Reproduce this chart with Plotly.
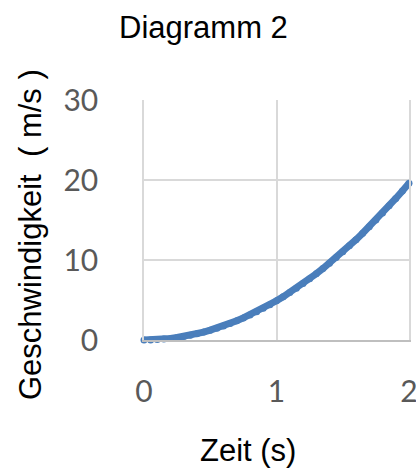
import plotly.graph_objects as go

zeit = [0, 0.05, 0.1, 0.15, 0.2, 0.25, 0.3, 0.35, 0.4, 0.45, 0.5, 0.55, 0.6, 0.65, 0.7,
        0.75, 0.8, 0.85, 0.9, 0.95, 1.0, 1.05, 1.1, 1.15, 1.2, 1.25, 1.3, 1.35, 1.4,
        1.45, 1.5, 1.55, 1.6, 1.65, 1.7, 1.75, 1.8, 1.85, 1.9, 1.95, 2.0]
geschwindigkeit = [0, 0.01, 0.05, 0.11, 0.2, 0.31, 0.44, 0.6, 0.78, 0.99, 1.23, 1.48,
                   1.76, 2.07, 2.4, 2.76, 3.14, 3.54, 3.97, 4.42, 4.9, 5.4, 5.93, 6.48,
                   7.06, 7.66, 8.28, 8.93, 9.6, 10.3, 11.03, 11.78, 12.54, 13.34, 14.16,
                   15.0, 15.88, 16.77, 17.69, 18.63, 19.6]
x_ticks = [0, 1, 2]
y_ticks = [0, 10, 20, 30]

W, H = 416, 468
L, R, T, B = 144, 7, 100, 128
pw, ph = W - L - R, H - T - B

def px(xp):
    return (xp - L) / pw

def py(yp):
    return (H - B - yp) / ph

blue = "#4a7ebb"
fig = go.Figure()
fig.add_trace(go.Scatter(
    x=zeit, y=geschwindigkeit, mode="lines+markers",
    line=dict(color=blue, width=7),
    marker=dict(color=blue, size=7, line=dict(width=0)),
    cliponaxis=False, showlegend=False,
))

grid = "#d9d9d9"
fig.update_layout(
    width=W, height=H,
    margin=dict(l=L, r=R, t=T, b=B, autoexpand=False),
    paper_bgcolor="white", plot_bgcolor="white",
    xaxis=dict(range=[0, 2], tickvals=x_ticks, showgrid=True, gridcolor=grid, gridwidth=1.5,
               zeroline=False, showline=True, linecolor="#bfbfbf", linewidth=1.5,
               ticks="", ticklabelstandoff=24, ticklabeloverflow="allow",
               tickfont=dict(family="Lato", size=30, color="#595959")),
    yaxis=dict(range=[0, 30], tickvals=y_ticks, showgrid=True, gridcolor=grid, gridwidth=1.5,
               zeroline=False, showline=True, linecolor=grid, linewidth=1.5, mirror=True,
               ticks="", ticklabelstandoff=38, ticklabeloverflow="allow",
               tickfont=dict(family="Lato", size=30, color="#595959")),
    font=dict(family="Liberation Sans", color="black"),
    annotations=[
        dict(text="Diagramm 2", xref="paper", yref="paper", x=px(203), y=py(27),
             showarrow=False, font=dict(size=31, family="Liberation Sans", color="black"),
             xanchor="center", yanchor="middle"),
        dict(text="Zeit (s)", xref="paper", yref="paper", x=px(248), y=py(450),
             showarrow=False, font=dict(size=31, family="Liberation Sans", color="black"),
             xanchor="center", yanchor="middle"),
        dict(text="Geschwindigkeit  ( m/s )", xref="paper", yref="paper", x=px(30), y=py(235),
             showarrow=False, textangle=-90,
             font=dict(size=31, family="Liberation Sans", color="black"),
             xanchor="center", yanchor="middle"),
    ],
)
fig.write_html("out.html")
